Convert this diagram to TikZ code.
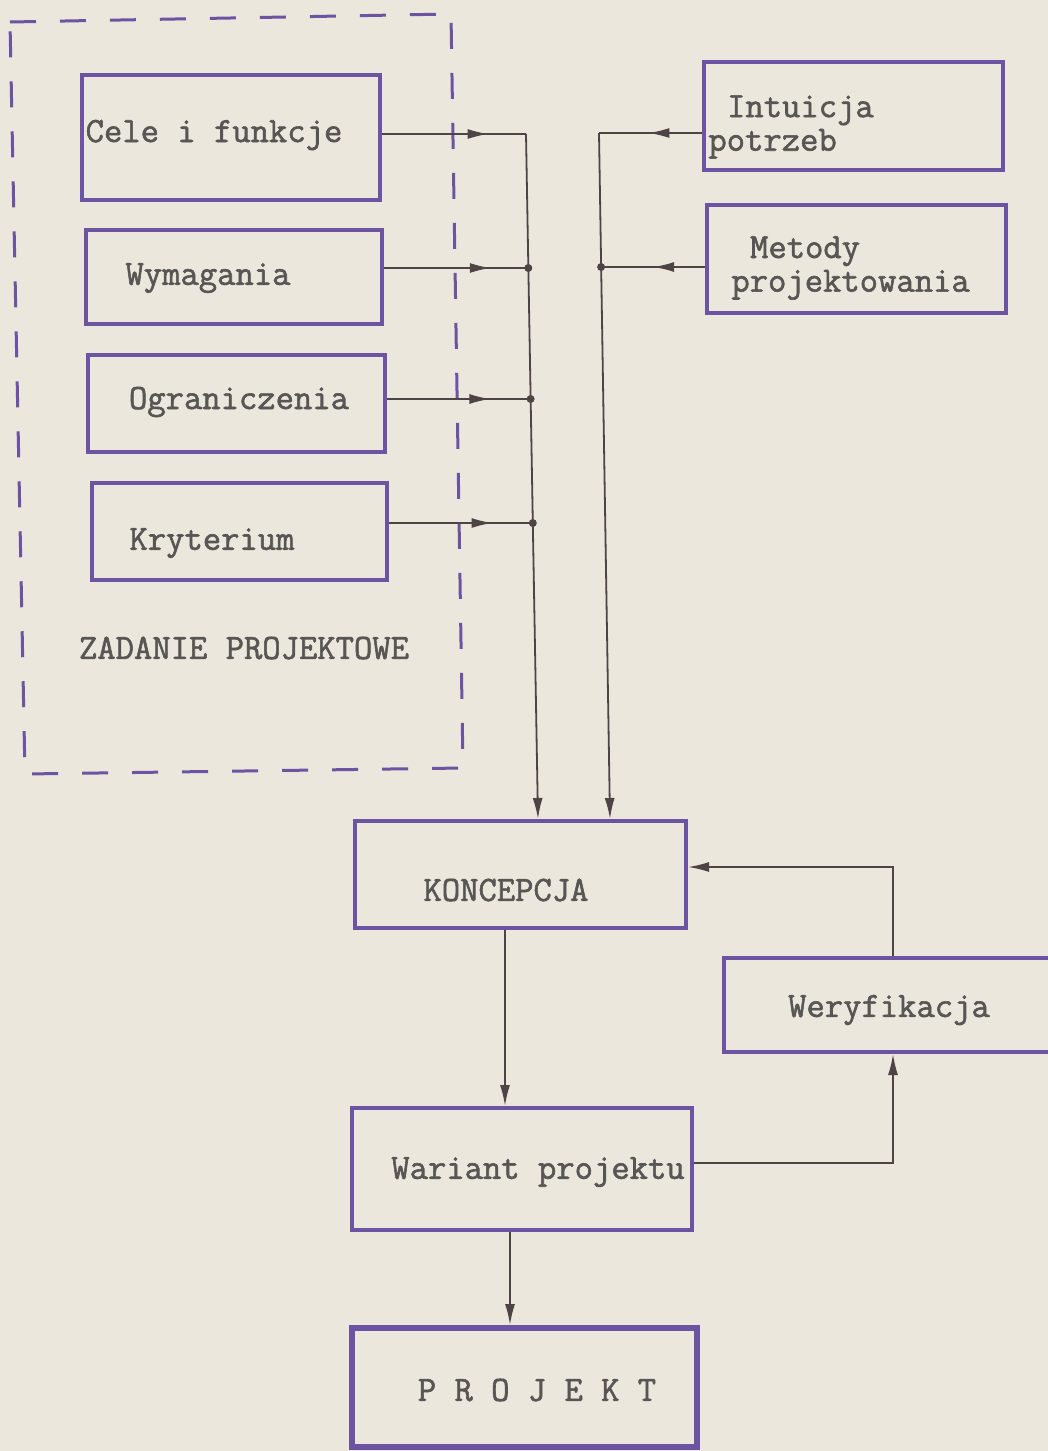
\documentclass[tikz,border=0pt]{standalone}
\usepackage{fontspec}
\newfontfamily\tw{Latin Modern Mono}[FakeBold=1.6]
\usetikzlibrary{arrows.meta,decorations.markings}
\definecolor{paper}{RGB}{236,231,220}
\definecolor{ink}{RGB}{108,84,162}
\definecolor{typ}{RGB}{88,86,84}
\definecolor{pen}{RGB}{78,68,70}
\begin{document}
\begin{tikzpicture}[x=0.5pt,y=-0.5pt,
  box/.style={draw=ink,line width=2pt,inner sep=0pt},
  txt/.style={font=\tw\bfseries\fontsize{17.8}{17}\selectfont,text=typ,inner sep=0pt},
  conn/.style={color=pen,line width=0.9pt},
  tip/.style={-{Latex[length=10.5pt,width=5pt]}},
  midarr/.style={postaction={decorate},decoration={markings,mark=at position #1 with {\arrow{Latex[length=10.5pt,width=5pt]}}}}
]
\useasboundingbox (0,0) rectangle (1048,1451);
\clip (0,0) rectangle (1048,1451);
\fill[paper] (0,0) rectangle (1048,1451);

% dashed frame
\draw[ink,line width=1.5pt,dash pattern=on 13pt off 12pt] (10,22) -- (451,14) -- (463,768) -- (25,774) -- cycle;

% left boxes
\node[box,minimum width=149pt,minimum height=62.5pt] (cele) at (231,137.5) {};
\node[box,minimum width=148pt,minimum height=47pt] (wym) at (234,277) {};
\node[box,minimum width=148.5pt,minimum height=48.5pt] (ogr) at (236.5,403.5) {};
\node[box,minimum width=147.5pt,minimum height=48.5pt] (kry) at (239.5,531.5) {};
\node[txt] (celet) at (214,135) {Cele i funkcje};
\node[txt] (wymt) at (208,278) {Wymagania};
\node[txt] (ogrt) at (239,402) {Ograniczenia};
\node[txt] (kryt) at (212,543) {Kryterium};
\node[txt] (zad) at (244,648) {ZADANIE PROJEKTOWE};

% right boxes
\node[box,minimum width=149.5pt,minimum height=54pt] (intu) at (853.5,116) {};
\node[box,minimum width=149.5pt,minimum height=54pt] (met) at (856.5,259) {};
\node[txt,align=left,anchor=west,font=\tw\bfseries\fontsize{17.8}{16.8}\selectfont] (intut) at (708,127) {\hspace{0.525em}Intuicja\\potrzeb};
\node[txt,align=left,anchor=west,font=\tw\bfseries\fontsize{17.8}{16.8}\selectfont] (mett) at (731,268) {\hspace{0.525em}Metody\\projektowania};

% central boxes
\node[box,minimum width=165.5pt,minimum height=53.5pt] (konc) at (520.5,874.5) {};
\node[txt] (konct) at (506,890) {KONCEPCJA};
\node[box,minimum width=168pt,minimum height=47pt] (wer) at (892,1005) {};
\node[txt] (wert) at (889,1010) {Weryfikacja};
\node[box,minimum width=170pt,minimum height=61pt] (war) at (522,1169) {};
\node[txt] (wart) at (538,1172) {Wariant projektu};
\node[box,line width=3pt,minimum width=172.5pt,minimum height=59.5pt] (proj) at (524.5,1387.5) {};
\node[txt] (projt) at (537,1390) {P R O J E K T};

% bus coordinates
\coordinate (bL1) at (526,134);
\coordinate (bL2) at (538,0);
\coordinate (jW) at (528.3,268);
\coordinate (jO) at (530.6,399);
\coordinate (jK) at (532.8,523);
\coordinate (bR1) at (599,133);
\coordinate (bR2) at (610,0);
\coordinate (jM) at (601.1,267);

% left inputs
\draw[conn,midarr=0.74] (cele.east |- bL1) -- (bL1);
\draw[conn,midarr=0.74] (wym.east |- jW) -- (jW);
\draw[conn,midarr=0.72] (ogr.east |- jO) -- (jO);
\draw[conn,midarr=0.72] (kry.east |- jK) -- (jK);
\draw[conn,tip] (bL1) -- (konc.north -| bL2);
\fill[pen] (jW) circle (2pt) (jO) circle (2pt) (jK) circle (2pt);

% right inputs
\draw[conn,midarr=0.52] (intu.west |- bR1) -- (bR1);
\draw[conn,midarr=0.5] (met.west |- jM) -- (jM);
\draw[conn,tip] (bR1) -- (konc.north -| bR2);
\fill[pen] (jM) circle (2pt);

% main flow
\coordinate (d1) at (505,0);
\coordinate (d2) at (510,0);
\draw[conn,tip] (konc.south -| d1) -- (war.north -| d1);
\draw[conn,tip] (war.south -| d2) -- (proj.north -| d2);

% feedback
\coordinate (fb) at (893,867);
\coordinate (wb) at (893,1163);
\draw[conn,tip] (wer.north -| fb) -- (fb) -- (konc.east |- fb);
\draw[conn,tip] (war.east |- wb) -- (wb) -- (wer.south -| wb);
\end{tikzpicture}
\end{document}
